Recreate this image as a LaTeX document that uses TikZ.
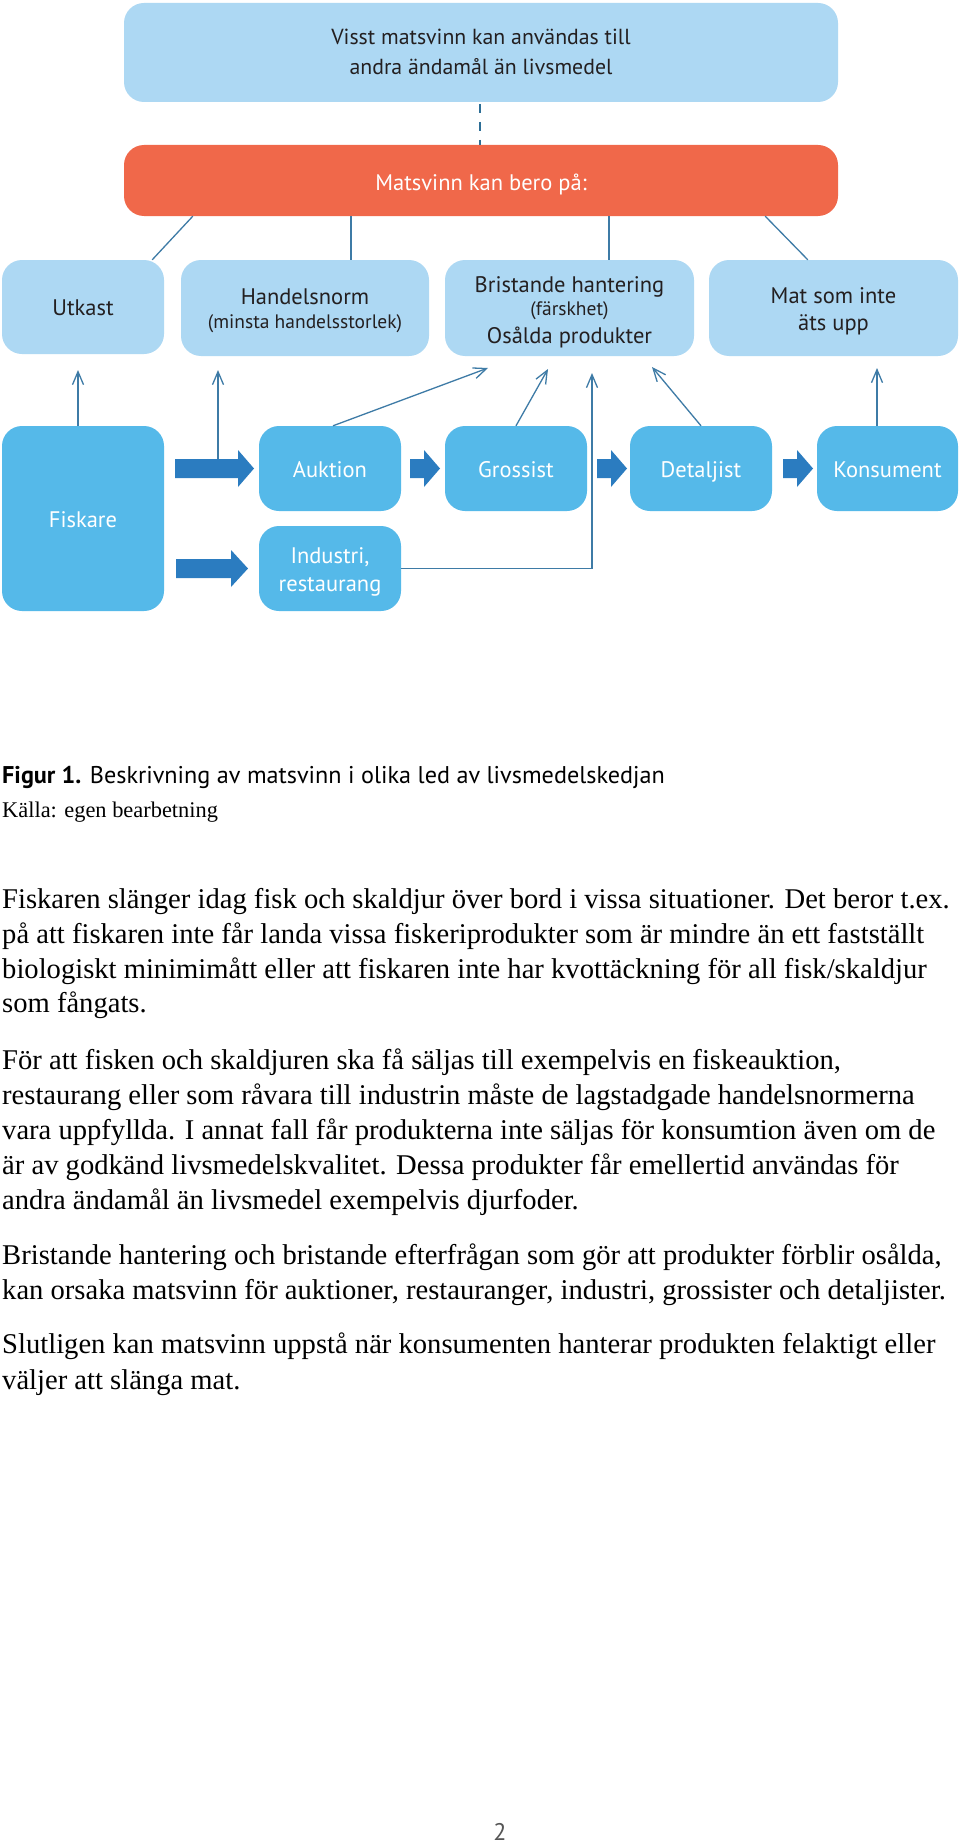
\documentclass[tikz,border=0pt]{standalone}
\usepackage{fontspec}
\setmainfont{Liberation Serif}
\newfontfamily\diag{PT Sans}
\usetikzlibrary{arrows.meta,calc}
\definecolor{lightb}{HTML}{ADD8F3}
\definecolor{midb}{HTML}{55B9E9}
\definecolor{redc}{HTML}{F0684A}
\definecolor{arrowc}{HTML}{2B7CC0}
\definecolor{linec}{HTML}{3E7BA6}
\definecolor{dashc}{HTML}{2D6E96}
\definecolor{darktext}{HTML}{231F20}
\definecolor{pgray}{HTML}{555555}
\newcommand{\topst}[1]{\rule{0pt}{#1pt}}
\newcommand{\botst}[1]{\rule[-#1pt]{0pt}{#1pt}}
\newcommand{\smallpar}{\fontsize{19.5}{24}\selectfont}
\newcommand{\bigarr}[4]{\fill[bigarrow] (#1,{#4-9.5}) -- (#2,{#4-9.5}) -- (#2,{#4-18.5}) -- (#3,#4) -- (#2,{#4+18.5}) -- (#2,{#4+9.5}) -- (#1,{#4+9.5}) -- cycle;}
\begin{document}
\begin{tikzpicture}[x=1pt,y=-1pt,
  box/.style={rounded corners=20pt, inner sep=0pt, align=center},
  topbox/.style={box, fill=lightb, text=darktext},
  lowbox/.style={box, fill=midb, text=white},
  dfont/.style={font=\diag\fontsize{22.5}{#1}\selectfont},
  conn/.style={draw=linec, line width=1.3pt},
  arr/.style={conn, -{Straight Barb[length=13pt,width=11pt]}},
  bigarrow/.style={fill=arrowc},
  body/.style={anchor=base west, inner sep=0pt, font=\fontsize{28.6}{31}\selectfont},
]
\useasboundingbox (0,0) rectangle (960,1846);
\fill[white] (0,0) rectangle (960,1846);

% top boxes
\node[topbox, font=\diag\fontsize{21.8}{30}\selectfont, minimum width=714pt, minimum height=99pt] (top) at (481,52.5)
  {\topst{23}Visst matsvinn kan användas till\\andra ändamål än livsmedel\botst{8}};
\node[box, fill=redc, text=white, dfont=25, minimum width=714pt, minimum height=71pt] (red) at (481,180.5)
  {\topst{25}Matsvinn kan bero på:\botst{6}};

% row 2
\node[topbox, dfont=25, minimum width=162pt, minimum height=94pt] (utk) at (83,307)
  {\topst{22}Utkast\botst{6}};
\node[topbox, dfont=24, minimum width=248pt, minimum height=96pt] (han) at (305,308)
  {\topst{22}Handelsnorm\\{\smallpar (minsta handelsstorlek)}\botst{6}};
\node[topbox, dfont=28, minimum width=249pt, minimum height=96pt] (bri) at (569.5,308)
  {\topst{25}Bristande hantering\\[-5pt]{\smallpar (färskhet)}\\Osålda produkter\botst{6}};
\node[topbox, dfont=27, minimum width=249pt, minimum height=96pt] (mat) at (833.5,308)
  {\topst{23}Mat som inte\\äts upp\botst{6}};

% row 3
\node[lowbox, dfont=28, minimum width=162pt, minimum height=185pt] (fis) at (83,518.5)
  {\topst{23}Fiskare\botst{6}};
\node[lowbox, dfont=28, minimum width=142pt, minimum height=85pt] (auk) at (330,468.5)
  {\topst{23}Auktion\botst{6}};
\node[lowbox, dfont=28, minimum width=142pt, minimum height=85pt] (gro) at (516,468.5)
  {\topst{23}Grossist\botst{6}};
\node[lowbox, dfont=28, minimum width=142pt, minimum height=85pt] (det) at (701,468.5)
  {\topst{23}Detaljist\botst{6}};
\node[lowbox, dfont=28, minimum width=141pt, minimum height=85pt] (kon) at (887.5,468.5)
  {\topst{23}Konsument\botst{6}};
\node[lowbox, dfont=28, minimum width=142pt, minimum height=85pt] (ind) at (330,568.5)
  {\topst{23}Industri,\\restaurang\botst{6}};

% big arrows
\bigarr{175}{238}{254}{468.5}
\bigarr{410}{424}{440}{468.5}
\bigarr{597}{611}{627}{468.5}
\bigarr{783}{797}{813}{468.5}
\bigarr{176}{231}{248}{568.5}

% dashed link
\coordinate (dx) at (480,104);
\draw[draw=dashc, line width=2pt, dash pattern=on 9pt off 9pt] (dx) -- (red.north -| dx);

% links from red box to causes
\coordinate (c2) at (351,0);
\coordinate (c3) at (609,0);
\draw[conn] ($(red.south west)+(69,0)$) -- ($(utk.north east)+(-12,0)$);
\draw[conn] (red.south -| c2) -- (han.north -| c2);
\draw[conn] (red.south -| c3) -- (bri.north -| c3);
\draw[conn] ($(red.south east)+(-73,0)$) -- ($(mat.north west)+(99,0)$);

% arrows up to causes
\coordinate (u1) at (78,370);
\coordinate (u2) at (218,370);
\coordinate (s1) at (218,459);
\coordinate (u3) at (488,368);
\coordinate (u4) at (548,369);
\coordinate (u5) at (592,373);
\coordinate (u6) at (652,367);
\coordinate (u7) at (877,368);
\draw[arr] (fis.north -| u1) -- (u1);
\draw[arr] (s1) -- (u2);
\draw[arr] ($(auk.north)+(3,0)$) -- (u3);
\draw[arr] (gro.north) -- (u4);
\draw[arr] (ind.east) -- (ind.east -| u5) -- (u5);
\draw[arr] (det.north) -- (u6);
\draw[arr] (kon.north -| u7) -- (u7);

% caption
\node[anchor=base west, inner sep=0pt, font=\diag\fontsize{24.2}{26}\selectfont] (cap) at (2,783)
  {\textbf{Figur 1.} Beskrivning av matsvinn i olika led av livsmedelskedjan};
\node[anchor=base west, inner sep=0pt, font=\fontsize{22.4}{24}\selectfont] (src) at (2,817)
  {Källa: egen bearbetning};

% body text
\node[body] (p1a) at (2,908) {Fiskaren slänger idag fisk och skaldjur över bord i vissa situationer. Det beror t.ex.};
\node[body] (p1b) at (2,943) {på att fiskaren inte får landa vissa fiskeriprodukter som är mindre än ett fastställt};
\node[body] (p1c) at (2,978) {biologiskt minimimått eller att fiskaren inte har kvottäckning för all fisk/skaldjur};
\node[body] (p1d) at (2,1012) {som fångats.};
\node[body] (p2a) at (2,1069) {För att fisken och skaldjuren ska få säljas till exempelvis en fiskeauktion,};
\node[body] (p2b) at (2,1104) {restaurang eller som råvara till industrin måste de lagstadgade handelsnormerna};
\node[body] (p2c) at (2,1139) {vara uppfyllda. I annat fall får produkterna inte säljas för konsumtion även om de};
\node[body] (p2d) at (2,1174) {är av godkänd livsmedelskvalitet. Dessa produkter får emellertid användas för};
\node[body] (p2e) at (2,1209) {andra ändamål än livsmedel exempelvis djurfoder.};
\node[body] (p3a) at (2,1264) {Bristande hantering och bristande efterfrågan som gör att produkter förblir osålda,};
\node[body] (p3b) at (2,1299) {kan orsaka matsvinn för auktioner, restauranger, industri, grossister och detaljister.};
\node[body] (p4a) at (2,1353) {Slutligen kan matsvinn uppstå när konsumenten hanterar produkten felaktigt eller};
\node[body] (p4b) at (2,1389) {väljer att slänga mat.};

% page number
\node[anchor=base, inner sep=0pt, text=pgray, font=\diag\fontsize{24}{24}\selectfont] (pg) at (500,1840) {2};
\end{tikzpicture}
\end{document}
